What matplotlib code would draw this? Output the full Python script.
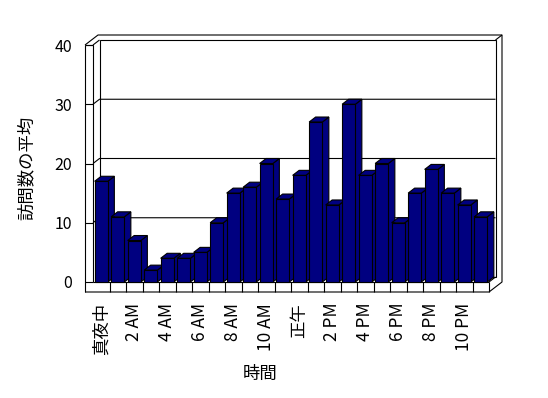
import matplotlib.pyplot as plt
from matplotlib.patches import Polygon

plt.rcParams['font.family'] = ['Noto Sans CJK JP', 'DejaVu Sans']

# average visits per hour of the day
hours = list(range(24))
visits = [17, 11, 7, 2, 4, 4, 5, 10, 15, 16, 20, 14,
          18, 27, 13, 30, 18, 20, 10, 15, 19, 15, 13, 11]
tick_pos = hours[::2]
tick_labels = ['真夜中', '2 AM', '4 AM', '6 AM', '8 AM', '10 AM',
               '正午', '2 PM', '4 PM', '6 PM', '8 PM', '10 PM']
y_ticks = [0, 10, 20, 30, 40]

W, H = 548, 398
fig = plt.figure(figsize=(W / 100, H / 100), dpi=100)
ax = fig.add_axes([93 / W, 116 / H, 396 / W, 237 / H])
ax.set_xlim(-0.5, 23.5)
ax.set_ylim(0, 40)
ax.patch.set_visible(False)
for s in ax.spines.values():
    s.set_visible(False)

# pseudo-3d depth, converted from pixels to data units
px_x = 396 / 24
px_y = 237 / 40
dx, dy = 6.5 / px_x, 5 / px_y
wall = 8 / px_x
floor = 10 / px_y
x0, x1 = -0.5, 23.5
lw = 0.8


def line(xs, ys, z=1):
    ax.plot(xs, ys, color='k', lw=lw, clip_on=False, zorder=z,
            solid_capstyle='butt')


# back wall with gridlines
ax.add_patch(Polygon([(x0 + dx, dy), (x1 + dx, dy), (x1 + dx, 40 + dy), (x0 + dx, 40 + dy)],
                     closed=True, facecolor='white', edgecolor='k', lw=lw, clip_on=False, zorder=1))
for v in y_ticks[1:-1]:
    line([x0, x0 + dx, x1 + dx], [v, v + dy, v + dy])
line([x0, x0 + dx], [40, 40 + dy])
line([x0, x0], [0, 40])

# left wall front face with ticks
line([x0 - wall, x0 - wall], [-floor, 40])
line([x0 - wall, x0], [40, 40])
for v in y_ticks:
    line([x0 - wall, x0], [v, v])

# outer slab outline
line([x0 - wall, x0 - wall + 2 * dx, x1 + 2 * dx, x1 + 2 * dx, x1, x0 - wall],
     [40, 40 + 2 * dy, 40 + 2 * dy, -floor + 2 * dy, -floor, -floor])
line([x1 + dx, x1 + 2 * dx], [40 + dy, 40 + 2 * dy])

# floor front face with category cells
line([x0, x1], [0, 0], z=2)
for k in range(1, 25):
    line([x0 + k, x0 + k], [0, -floor], z=2)
line([x1, x1 + dx], [0, dy])

# bars: front faces through ax.bar, side and top faces as polygons
bars = ax.bar(hours, visits, width=0.8, color='#000080', edgecolor='k',
              linewidth=lw, clip_on=False)
for i, (p, v) in enumerate(zip(bars.patches, visits)):
    z = 3 + i * 0.01
    p.set_zorder(z + 0.005)
    r = i + 0.4
    l = i - 0.4
    side = Polygon([(r, 0), (r, v), (r + dx, v + dy), (r + dx, dy)], closed=True,
                   facecolor='#000080', edgecolor='k', lw=lw, clip_on=False, zorder=z)
    top = Polygon([(l, v), (r, v), (r + dx, v + dy), (l + dx, v + dy)], closed=True,
                  facecolor='#000080', edgecolor='k', lw=lw, clip_on=False, zorder=z)
    ax.add_patch(side)
    ax.add_patch(top)

ax.set_yticks(y_ticks)
ax.set_xticks(tick_pos, tick_labels, rotation=90)
ax.tick_params(axis='y', length=0, pad=15, labelsize=11.5)
ax.tick_params(axis='x', length=0, pad=15, labelsize=12.5)

ax.set_xlabel('時間', fontsize=12.5)
ax.xaxis.set_label_coords(0.422, -0.350)
ax.set_ylabel('訪問数の平均', fontsize=12.5)
ax.yaxis.set_label_coords(-0.144, 0.481)

fig.savefig('out.png', dpi=100)
